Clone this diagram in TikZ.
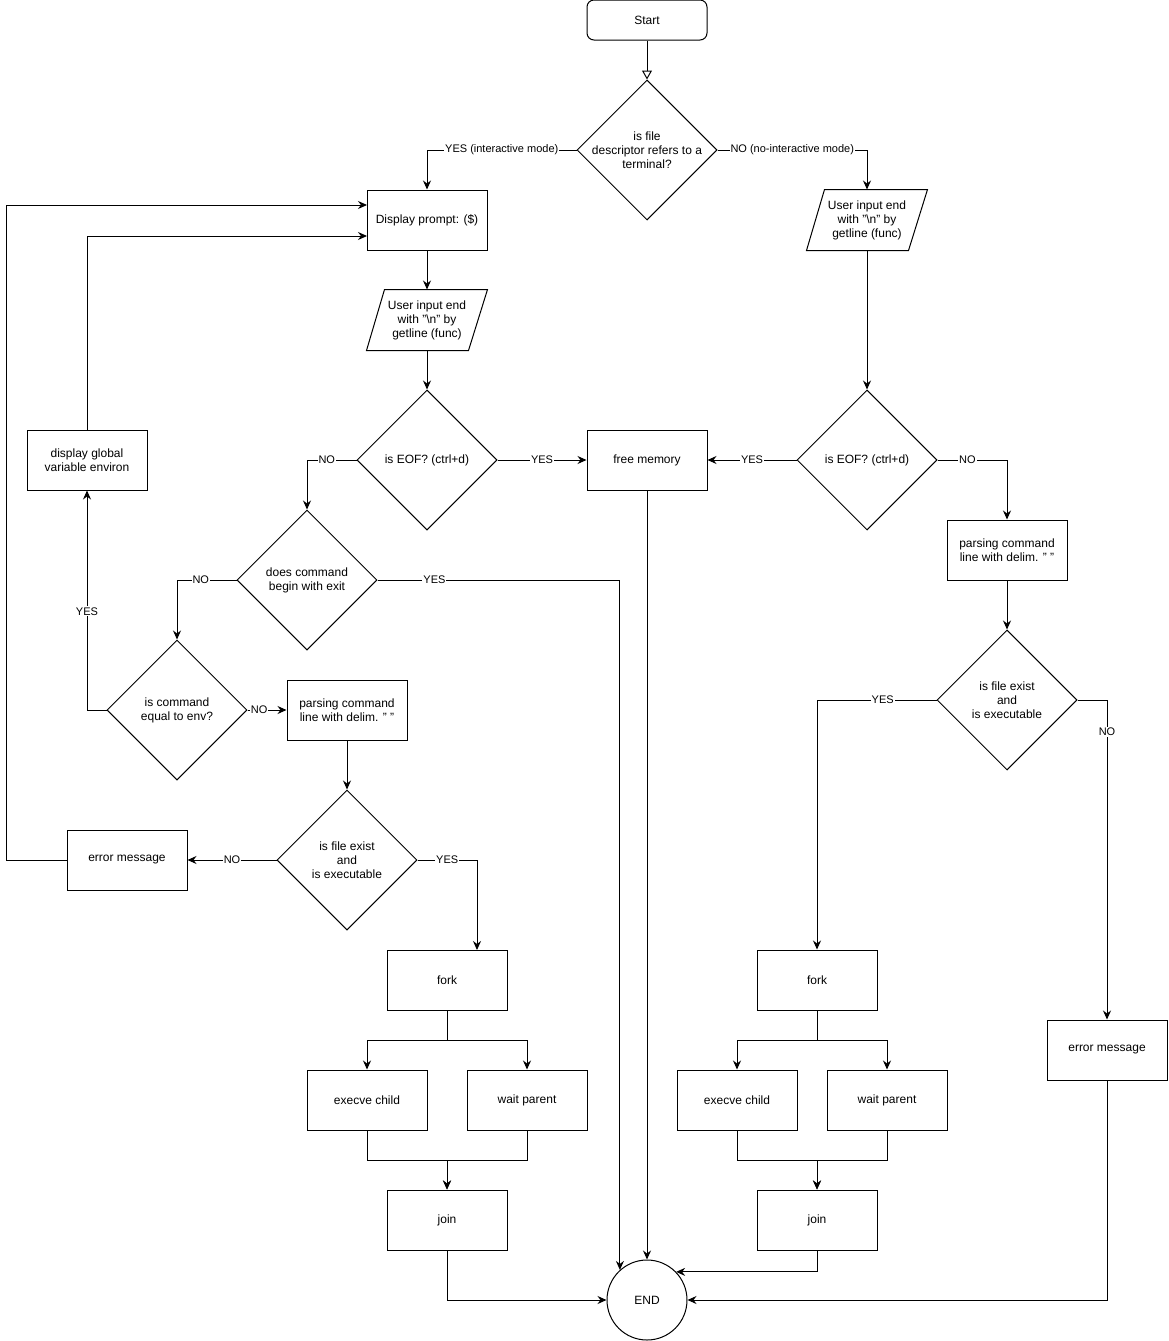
\documentclass[tikz,border=0pt]{standalone}
\usepackage{fontspec}
\setmainfont{Liberation Sans}
\usetikzlibrary{shapes.geometric,arrows.meta,calc}
\newcommand\nodefnt{\fontsize{12}{14}\selectfont}
\newcommand\lblfnt{\fontsize{11}{13}\selectfont}
\newcommand\dq{\symbol{34}}
\begin{document}
\begin{tikzpicture}[x=1pt,y=-1pt,line width=1pt,
  box/.style={draw,rectangle,minimum width=120pt,minimum height=60pt,inner sep=0pt,align=center,font=\nodefnt},
  startbox/.style={box,minimum height=40pt,rounded corners=7pt},
  parabox/.style={rectangle,minimum width=120pt,minimum height=60pt,inner sep=0pt,align=center,font=\nodefnt},
  dia/.style={draw,diamond,minimum width=140pt,minimum height=140pt,inner sep=0pt},
  dtxt/.style={align=center,font=\nodefnt,inner sep=0pt},
  endc/.style={draw,circle,minimum size=80pt,inner sep=0pt,font=\nodefnt},
  lbl/.style={fill=white,inner sep=1pt,font=\lblfnt},
  arr/.style={-{Stealth[length=9pt,width=8pt,inset=3pt]}},
  arrT/.style={-{Triangle[open,length=9pt,width=10pt]}}]
\useasboundingbox[fill=white] (0,0) rectangle (1168,1341);

% nodes
\node[startbox] (start) at (647,20) {Start};
\node[dia,label={[dtxt]center:{is file\\descriptor refers to a\\terminal?}}] (d1) at (647,150) {};
\node[box] (dp) at (427,220) {Display prompt: (\$)};
\node[parabox] (pl) at (427,320) {User input end\\with \dq\textbackslash n\dq{} by\\getline (func)};
\node[parabox] (pr) at (867,220) {User input end\\with \dq\textbackslash n\dq{} by\\getline (func)};
\draw ($(pl.north west)+(18,0)$) -- (pl.north east) -- ($(pl.south east)+(-19,0)$) -- (pl.south west) -- cycle;
\draw ($(pr.north west)+(18,0)$) -- (pr.north east) -- ($(pr.south east)+(-19,0)$) -- (pr.south west) -- cycle;
\node[dia,label={[dtxt]center:{is EOF? (ctrl+d)}}] (eofl) at (427,460) {};
\node[dia,label={[dtxt]center:{is EOF? (ctrl+d)}}] (eofr) at (867,460) {};
\node[box] (fm) at (647,460) {free memory};
\node[dia,label={[dtxt]center:{does command\\begin with exit}}] (exd) at (307,580) {};
\node[dia,label={[dtxt]center:{is command\\equal to env?}}] (env) at (177,710) {};
\node[box] (dg) at (87,460) {display global\\variable environ};
\node[box] (pal) at (347,710) {parsing command\\line with delim. \dq\ \dq};
\node[box] (par) at (1007,550) {parsing command\\line with delim. \dq\ \dq};
\node[dia,label={[dtxt]center:{is file exist\\and\\is executable}}] (fel) at (347,860) {};
\node[dia,label={[dtxt]center:{is file exist\\and\\is executable}}] (fer) at (1007,700) {};
\node[box] (eml) at (127,860) {error message};
\node[box] (emr) at (1107,1050) {error message};
\node[box] (fkl) at (447,980) {fork};
\node[box] (fkr) at (817,980) {fork};
\node[box] (ecl) at (367,1100) {execve child};
\node[box] (wpl) at (527,1100) {wait parent};
\node[box] (ecr) at (737,1100) {execve child};
\node[box] (wpr) at (887,1100) {wait parent};
\node[box] (jl) at (447,1220) {join};
\node[box] (jr) at (817,1220) {join};
\node[endc] (fin) at (647,1300) {END};

\coordinate (in1) at (367,205);
\coordinate (in2) at (367,236);
\coordinate (fkin) at (477,950);

% edges
\draw[arrT] (start) -- (d1);
\draw[arr] (d1.west) -- node[lbl]{YES (interactive mode)} (d1.west -| dp.north) -- (dp.north);
\draw[arr] (d1.east) -- node[lbl]{NO (no-interactive mode)} (d1.east -| pr.north) -- (pr.north);
\draw[arr] (dp) -- (pl);
\draw[arr] (pl) -- (eofl);
\draw[arr] (pr) -- (eofr);
\draw[arr] (eofl) -- node[lbl]{YES} (fm);
\draw[arr] (eofr) -- node[lbl]{YES} (fm);
\draw[arr] (eofr.east) -- node[lbl,pos=0.43]{NO} (eofr.east -| par.north) -- (par.north);
\draw[arr] (par) -- (fer);
\draw[arr] (fer.west) -- node[lbl,pos=0.45]{YES} (fer.west -| fkr.north) -- (fkr.north);
\draw[arr] (fer.east) -- (fer.east -| emr.north) -- node[lbl,pos=0.1]{NO} (emr.north);
\draw[arr] (eofl.west) -- node[lbl,pos=0.6]{NO} (eofl.west -| exd.north) -- (exd.north);
\draw[arr] (exd.east) -- node[lbl,pos=0.235]{YES} (exd.east -| fin.132.5) -- (fin.132.5);
\draw[arr] (exd.west) -- node[lbl,pos=0.6]{NO} (exd.west -| env.north) -- (env.north);
\draw[arr] (env.west) -- (env.west -| dg.south) -- node[lbl,pos=0.45]{YES} (dg.south);
\draw[arr] (dg.north) |- (in2);
\draw[arr] (env.east) -- node[lbl,pos=0.3]{NO} (pal.west);
\draw[arr] (pal) -- (fel);
\draw[arr] (fel.west) -- node[lbl]{NO} (eml.east);
\draw[arr] (eml.west) -- ++(-60,0) |- (in1);
\draw[arr] (fel.east) -- node[lbl]{YES} (fel.east -| fkin) -- (fkin);
% left fork/join
\draw[arr] (fkl.south) -- ++(0,30) -| (ecl.north);
\draw[arr] (fkl.south) -- ++(0,30) -| (wpl.north);
\draw[arr] (ecl.south) -- ++(0,30) -| (jl.north);
\draw[arr] (wpl.south) -- ++(0,30) -| (jl.north);
% right fork/join
\draw[arr] (fkr.south) -- ++(0,30) -| (ecr.north);
\draw[arr] (fkr.south) -- ++(0,30) -| (wpr.north);
\draw[arr] (ecr.south) -- ++(0,30) -| (jr.north);
\draw[arr] (wpr.south) -- ++(0,30) -| (jr.north);
% to END
\draw[arr] (jl.south) |- (fin.west);
\draw[arr] (fm) -- (fin);
\draw[arr] (jr.south) |- (fin.44.4);
\draw[arr] (emr.south) |- (fin.east);
\end{tikzpicture}
\end{document}
